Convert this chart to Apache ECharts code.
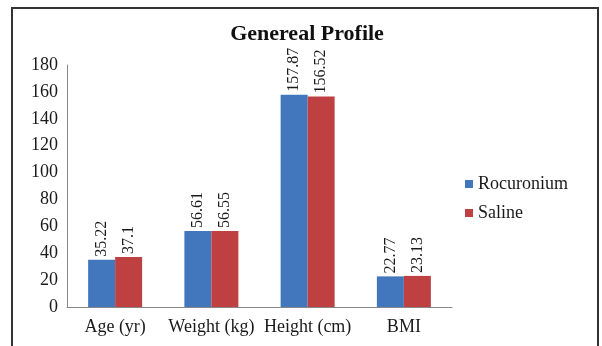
<!DOCTYPE html>
<html><head><meta charset="utf-8">
<script src="https://cdn.jsdelivr.net/npm/echarts@6/dist/echarts.min.js"></script>
<style>html,body{margin:0;padding:0;background:#fff}#c{width:602px;height:346px}</style>
</head><body><div id="c"></div>
<script>
const categories = ['Age (yr)', 'Weight (kg)', 'Height (cm)', 'BMI'];
const rocuronium = [35.22, 56.61, 157.87, 22.77];
const saline = [37.1, 56.55, 156.52, 23.13];
const seriesNames = ['Rocuronium', 'Saline'];
const yTicks = [0, 20, 40, 60, 80, 100, 120, 140, 160, 180];

const font = 'Liberation Serif';
const chart = echarts.init(document.getElementById('c'), null, {renderer: 'canvas'});
const lbl = {
  show: true, position: 'top', rotate: 90, align: 'left', verticalAlign: 'middle',
  distance: 3, fontFamily: font, fontSize: 16, color: '#1a1a1a',
  formatter: p => String(p.value)
};
chart.setOption({
  animation: false,
  backgroundColor: '#fff',
  graphic: [{
    type: 'rect', shape: {x: 12, y: 8, width: 586, height: 350},
    style: {fill: 'none', stroke: '#333', lineWidth: 2}, z: -1
  }],
  title: {
    text: 'Genereal Profile', left: 302, top: 18, textAlign: 'center',
    textStyle: {fontFamily: font, fontSize: 22, fontWeight: 'bold', color: '#111'}
  },
  legend: {
    orient: 'vertical', left: 465, top: 175, padding: 0, itemWidth: 8, itemHeight: 8, itemGap: 11,
    icon: 'rect', textStyle: {fontFamily: font, fontSize: 18, color: '#1a1a1a'},
    data: seriesNames
  },
  grid: {left: 67, right: 150, top: 65, bottom: 39},
  xAxis: {
    type: 'category', data: categories,
    axisLine: {lineStyle: {color: '#888'}}, axisTick: {show: false},
    axisLabel: {fontFamily: font, fontSize: 18, color: '#1a1a1a', margin: 11, interval: 0}
  },
  yAxis: {
    type: 'value', min: 0, max: 180, interval: 20,
    axisLine: {show: true, lineStyle: {color: '#888'}}, axisTick: {show: false},
    splitLine: {show: false},
    axisLabel: {fontFamily: font, fontSize: 18, color: '#1a1a1a', margin: 9,
      formatter: v => yTicks.includes(v) ? String(v) : ''}
  },
  series: [
    {name: seriesNames[0], type: 'bar', data: rocuronium, barWidth: 27, barGap: '0%',
     itemStyle: {color: '#4277bd'}, label: lbl},
    {name: seriesNames[1], type: 'bar', data: saline, barWidth: 27,
     itemStyle: {color: '#be4040'}, label: lbl}
  ]
});
</script></body></html>
